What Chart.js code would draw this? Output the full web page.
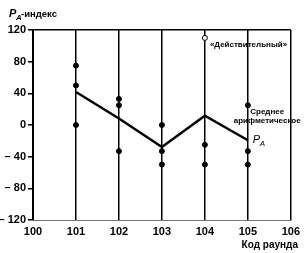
<!DOCTYPE html>
<html>
<head>
<meta charset="utf-8">
<script src="https://cdn.jsdelivr.net/npm/chart.js@4"></script>
<style>
  html, body { margin: 0; padding: 0; background: #fff; }
  #wrap { width: 305px; height: 253px; }
</style>
</head>
<body>
<div id="wrap"><canvas id="chart" width="305" height="253"></canvas></div>
<script>
// data
const roundCodes = [101, 102, 103, 104, 105];
const meanValues = [41.7, 8.3, -27.7, 11.7, -19.3];
const labRounds = [101, 101, 101, 102, 102, 102, 103, 103, 103, 104, 104, 105, 105, 105];
const labValues = [75, 50, 0, 33, 25, -33, 0, -33, -50, -25, -50, 25, -33, -50];
const trueRound = [104];
const trueValue = [110];
const xTicks = [100, 101, 102, 103, 104, 105, 106];
const yLabelTicks = [120, 80, 40, 0, -40, -80, -120];

const FONT = "'Liberation Sans', Arial, sans-serif";

// extra texts drawn at data positions
const textPlugin = {
  id: "texts",
  afterDraw(chart) {
    const ctx = chart.ctx;
    const xs = chart.scales.x;
    const ys = chart.scales.y;
    ctx.save();
    ctx.fillStyle = "#000";
    ctx.textBaseline = "alphabetic";

    // y axis title
    ctx.font = "italic bold 11px " + FONT;
    ctx.textAlign = "left";
    ctx.fillText("P", 9, 17);
    ctx.font = "italic bold 8px " + FONT;
    ctx.fillText("A", 16, 20);
    ctx.font = "bold 9.5px " + FONT;
    ctx.fillText("-индекс", 21, 17);

    // x axis title
    ctx.textAlign = "right";
    ctx.font = "bold 10px " + FONT;
    ctx.fillText("Код раунда", 298, 248);

    // annotations
    ctx.font = "bold 8px " + FONT;
    ctx.textAlign = "left";
    ctx.fillText("«Действительный»", xs.getPixelForValue(104) + 5, ys.getPixelForValue(99));
    ctx.textAlign = "center";
    ctx.fillText("Среднее", xs.getPixelForValue(105.45), ys.getPixelForValue(14));
    ctx.fillText("арифметическое", xs.getPixelForValue(105.45), ys.getPixelForValue(3));

    ctx.textAlign = "left";
    ctx.font = "italic 11px " + FONT;
    ctx.fillText("P", xs.getPixelForValue(105) + 5, ys.getPixelForValue(-23));
    ctx.font = "italic 8px " + FONT;
    ctx.fillText("A", xs.getPixelForValue(105) + 12, ys.getPixelForValue(-27));
    ctx.restore();
  }
};

const chart = new Chart(document.getElementById("chart"), {
  type: "scatter",
  data: {
    datasets: [
      {
        label: "mean",
        type: "line",
        data: roundCodes.map((r, i) => ({ x: r, y: meanValues[i] })),
        borderColor: "#000",
        borderWidth: 2.5,
        pointRadius: 0,
        fill: false,
        tension: 0
      },
      {
        label: "labs",
        data: labRounds.map((r, i) => ({ x: r, y: labValues[i] })),
        backgroundColor: "#000",
        borderColor: "#000",
        pointRadius: 2.5
      },
      {
        label: "true",
        data: trueRound.map((r, i) => ({ x: r, y: trueValue[i] })),
        backgroundColor: "#fff",
        borderColor: "#000",
        borderWidth: 1,
        pointRadius: 2.5
      }
    ]
  },
  options: {
    responsive: false,
    animation: false,
    layout: { padding: { top: 30, right: 14, left: 0, bottom: 0 } },
    plugins: { legend: { display: false }, tooltip: { enabled: false } },
    scales: {
      x: {
        type: "linear",
        min: 100,
        max: 106,
        afterBuildTicks: (s) => { s.ticks = xTicks.map((v) => ({ value: v })); },
        afterFit: (s) => { s.height = 33; },
        border: { display: true, color: "#777", width: 1 },
        grid: {
          color: (c) => (c.tick && c.tick.value > 100 ? "#000" : "rgba(0,0,0,0)"),
          lineWidth: 1.5,
          drawTicks: false
        },
        ticks: {
          padding: 5,
          color: "#000",
          font: { family: FONT, size: 11, weight: "bold" },
          callback: (v) => String(v)
        }
      },
      y: {
        min: -120,
        max: 120,
        afterFit: (s) => { s.width = 33; },
        border: { display: true, color: "#000", width: 2 },
        grid: {
          color: (c) => (c.tick && c.tick.value === 120 ? "#000" : "rgba(0,0,0,0)"),
          lineWidth: 1.5,
          tickColor: "#000",
          tickLength: 5,
          drawTicks: true
        },
        ticks: {
          stepSize: 20,
          padding: 2,
          color: "#000",
          font: { family: FONT, size: 11, weight: "bold" },
          callback: (v) => (yLabelTicks.includes(v) ? (v < 0 ? "– " + Math.abs(v) : String(v)) : "")
        }
      }
    }
  },
  plugins: [textPlugin]
});
</script>
</body>
</html>
